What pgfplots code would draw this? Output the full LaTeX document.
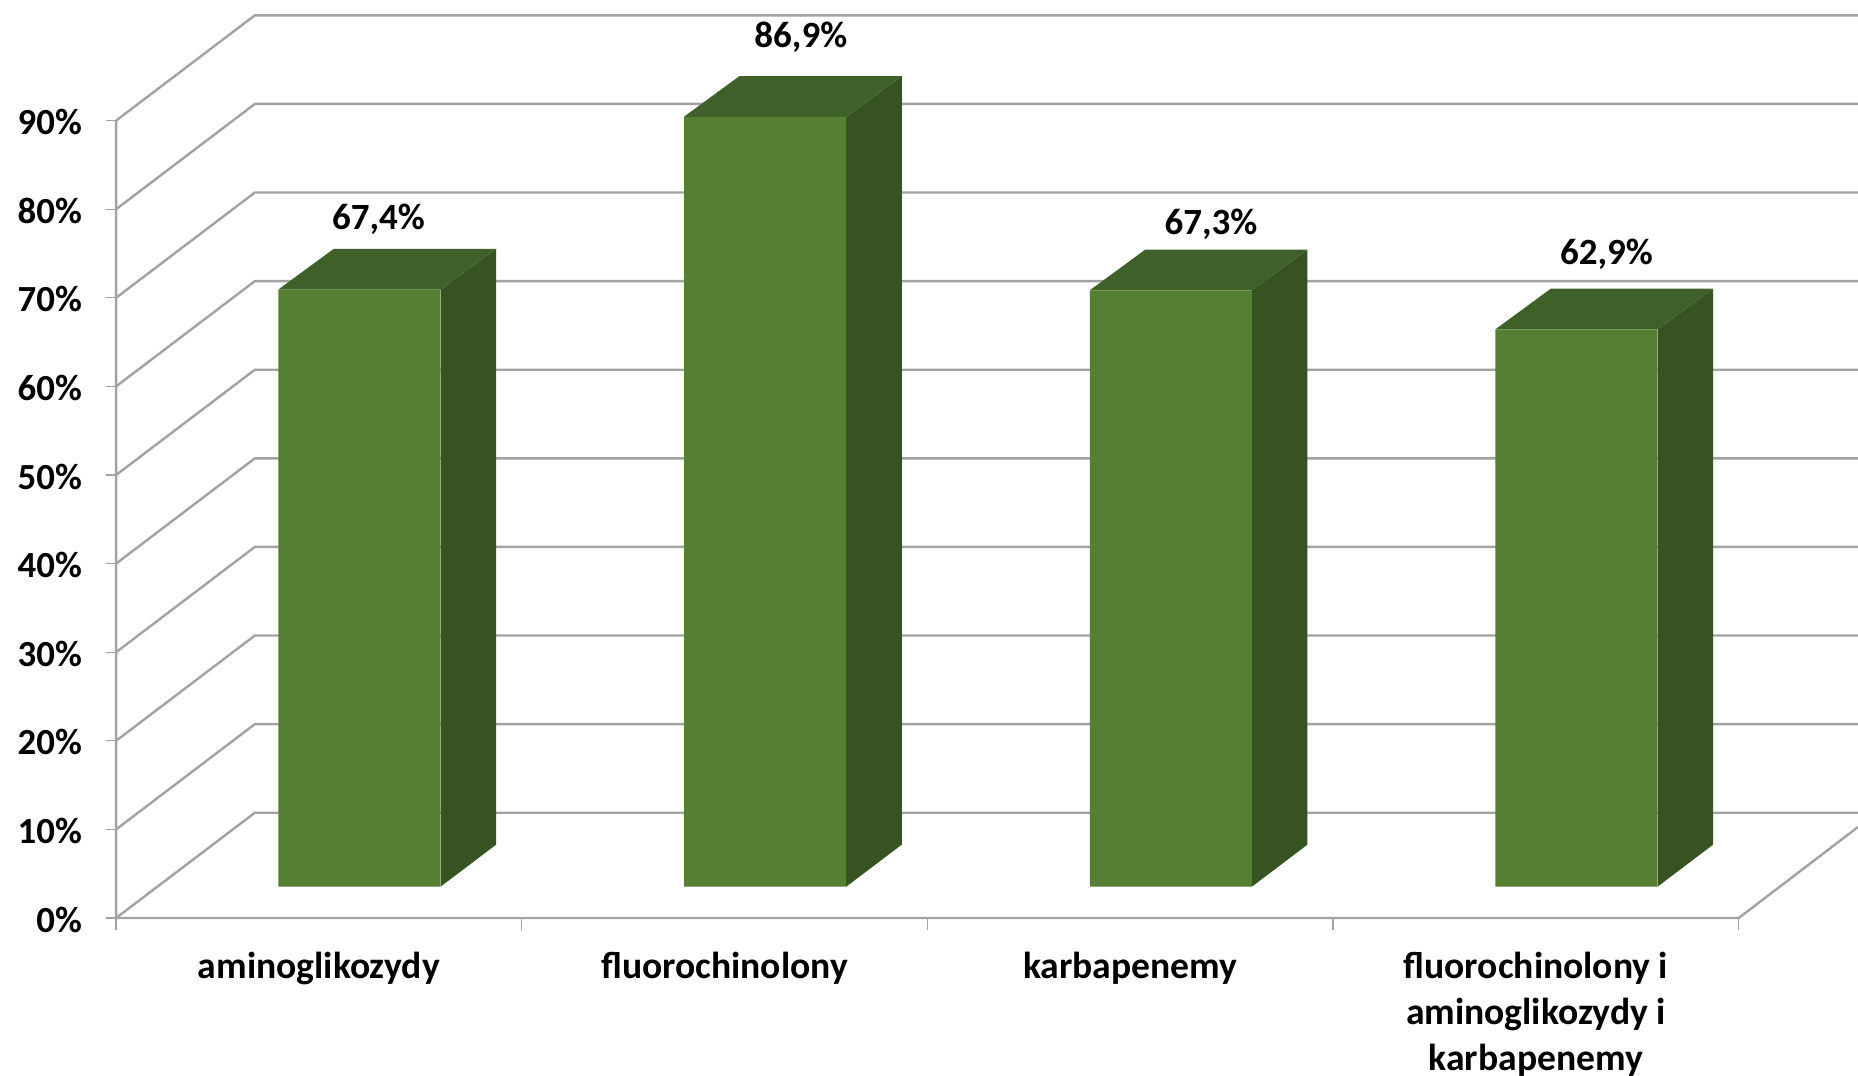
\documentclass[border=0pt]{standalone}
\usepackage{pgfplots}
\pgfplotsset{compat=1.18}
\usepackage{fontspec}
\setmainfont{Carlito}
\definecolor{gridgray}{HTML}{A2A2A2}
\definecolor{front}{HTML}{558033}
\definecolor{topf}{HTML}{406029}
\definecolor{sidef}{HTML}{365321}
\newcommand{\xfont}{\bfseries\fontsize{18.8}{23}\selectfont}
\newcommand{\yfont}{\bfseries\fontsize{18.4}{23}\selectfont}
\newcommand{\dfont}{\bfseries\fontsize{18.5}{23}\selectfont}
\pgfplotsset{
  wall/.style={draw=gridgray,line width=1.2pt,forget plot,line join=miter},
  bar3d/.style={draw=none,forget plot,xshift=20.25pt,yshift=15.65pt},
}
\begin{document}
\begin{tikzpicture}
\useasboundingbox (-58.05pt,-79pt) rectangle (870.95pt,459pt);
\begin{axis}[
  at={(0,0)},anchor=south west,
  scale only axis,width=870.95pt,height=451.86pt,
  xmin=0,xmax=4.294,ymin=0,ymax=102,
  clip=false,
  axis x line=bottom,axis y line=left,
  axis line style={draw=none,-},
  tick align=outside,
  ytick={0,10,20,30,40,50,60,70,80,90},
  yticklabels={0\%,10\%,20\%,30\%,40\%,50\%,60\%,70\%,80\%,90\%},
  xtick={0.5,1.5,2.5,3.5},
  xticklabels={aminoglikozydy,fluorochinolony,karbapenemy,{fluorochinolony i\\aminoglikozydy i\\karbapenemy}},
  minor xtick={0,1,2,3,4},
  major tick length=5pt,minor tick length=6pt,
  major y tick style={draw=gridgray,line width=0.6pt},
  major x tick style={draw=none},
  minor x tick style={draw=gridgray,line width=0.6pt},
  xticklabel style={font=\xfont,align=center,anchor=north,yshift=-8.4pt},
  yticklabel style={font=\yfont,anchor=east,xshift=-8.6pt,yshift=-0.8pt},
  nodes near coords style={font=\dfont,anchor=center,inner sep=0pt,text=black},
]
% axes
\addplot[wall] coordinates {(0,90) (0,0) (4,0) (4.294,10.27)};
% side wall and back wall grid
\addplot[wall] coordinates {(0,0) (0.342,11.88) (4.294,11.88)};
\addplot[wall] coordinates {(0,10) (0.342,21.88) (4.294,21.88)};
\addplot[wall] coordinates {(0,20) (0.342,31.88) (4.294,31.88)};
\addplot[wall] coordinates {(0,30) (0.342,41.88) (4.294,41.88)};
\addplot[wall] coordinates {(0,40) (0.342,51.88) (4.294,51.88)};
\addplot[wall] coordinates {(0,50) (0.342,61.88) (4.294,61.88)};
\addplot[wall] coordinates {(0,60) (0.342,71.88) (4.294,71.88)};
\addplot[wall] coordinates {(0,70) (0.342,81.88) (4.294,81.88)};
\addplot[wall] coordinates {(0,80) (0.342,91.88) (4.294,91.88)};
\addplot[wall] coordinates {(0,90) (0.342,101.88) (4.294,101.88)};
% bar sides
\addplot[bar3d,fill=sidef] coordinates {(0.7,0) (0.837,4.75) (0.837,72.0) (0.7,67.4)} -- cycle;
\addplot[bar3d,fill=sidef] coordinates {(1.7,0) (1.837,4.75) (1.837,91.5) (1.7,86.9)} -- cycle;
\addplot[bar3d,fill=sidef] coordinates {(2.7,0) (2.837,4.75) (2.837,71.9) (2.7,67.3)} -- cycle;
\addplot[bar3d,fill=sidef] coordinates {(3.7,0) (3.837,4.75) (3.837,67.5) (3.7,62.9)} -- cycle;
% bar tops
\addplot[bar3d,fill=topf] coordinates {(0.3,67.4) (0.437,72.0) (0.837,72.0) (0.7,67.4)} -- cycle;
\addplot[bar3d,fill=topf] coordinates {(1.3,86.9) (1.437,91.5) (1.837,91.5) (1.7,86.9)} -- cycle;
\addplot[bar3d,fill=topf] coordinates {(2.3,67.3) (2.437,71.9) (2.837,71.9) (2.7,67.3)} -- cycle;
\addplot[bar3d,fill=topf] coordinates {(3.3,62.9) (3.437,67.5) (3.837,67.5) (3.7,62.9)} -- cycle;
% bar fronts
\addplot[ybar,bar width=81pt,bar3d,fill=front] coordinates {(0.5,67.4) (1.5,86.9) (2.5,67.3) (3.5,62.9)};
% data labels
\addplot[draw=none,mark=none,forget plot,point meta=explicit symbolic,
  nodes near coords={\pgfplotspointmeta\%}]
  coordinates {(0.647,78.85)[67,4] (1.688,99.45)[86,9] (2.699,78.25)[67,3] (3.674,74.95)[62,9]};
\end{axis}
\end{tikzpicture}
\end{document}
